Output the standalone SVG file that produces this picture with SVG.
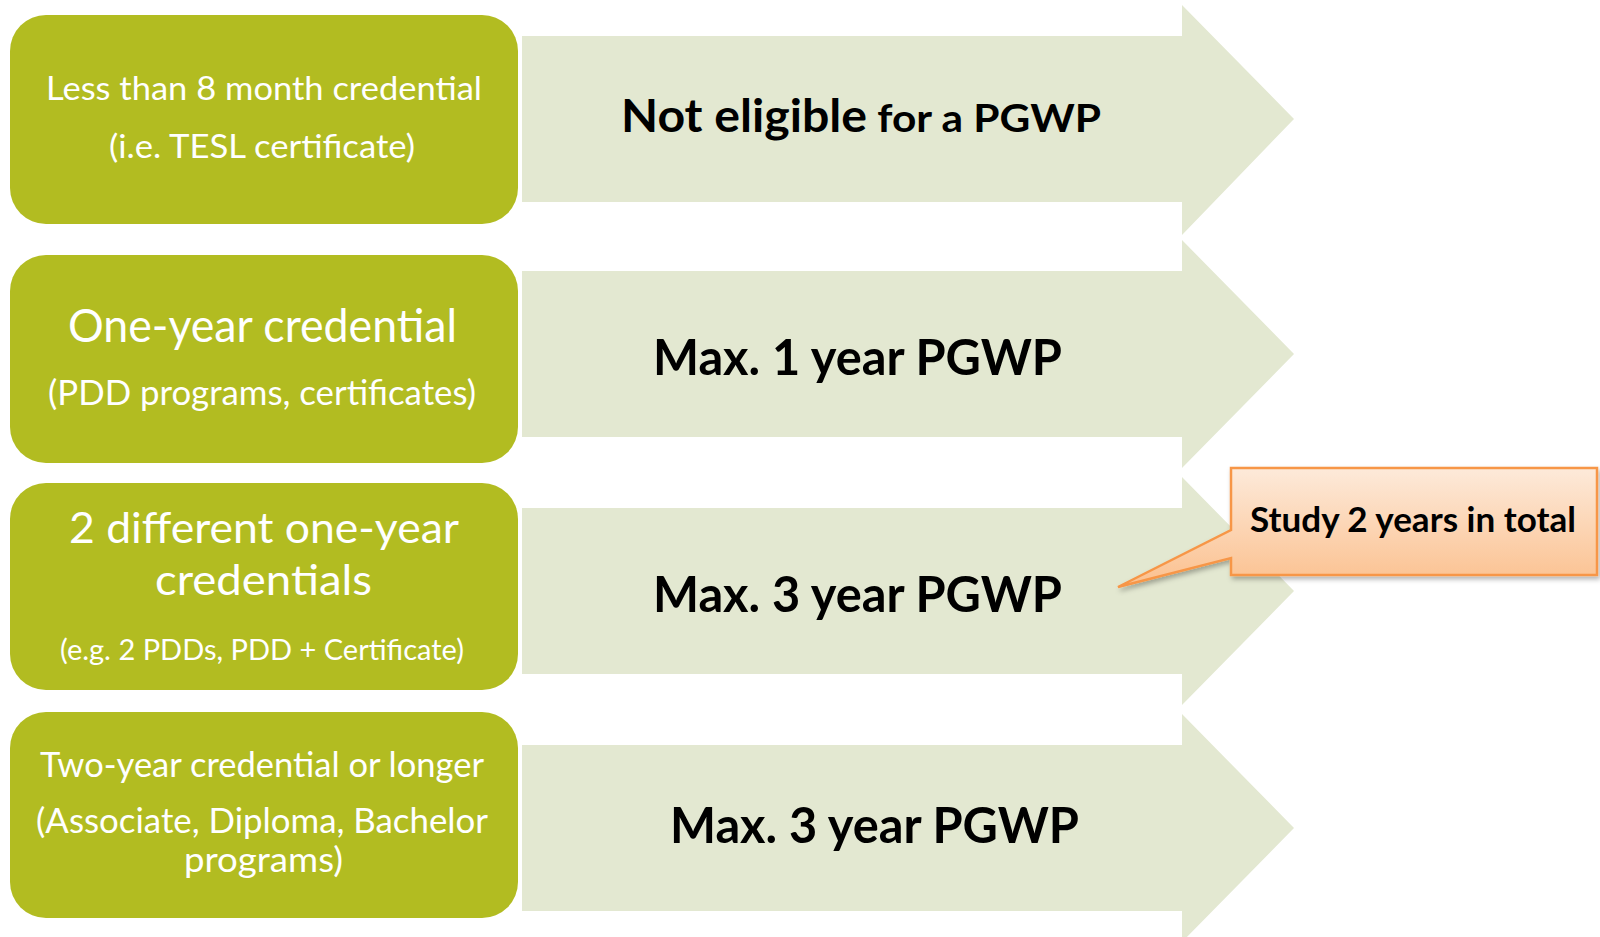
<svg xmlns="http://www.w3.org/2000/svg" width="1600" height="937" viewBox="0 0 1600 937">
  <defs>
    <style>
      .box { fill: #B2BC21; }
      .arrow { fill: #E3E8D1; }
      .wt { fill: #FFFFFF; font-family: Lato, "Open Sans", "Liberation Sans", sans-serif; font-weight: 400; }
      .bt { fill: #000000; font-family: Lato, "Open Sans", "Liberation Sans", sans-serif; font-weight: 700; }
      .call { fill: url(#callGrad); stroke: #F79646; stroke-width: 2.5; stroke-linejoin: miter; }
    </style>
    <linearGradient id="callGrad" x1="0" y1="0" x2="0" y2="1">
      <stop offset="0" stop-color="#FDEADA"/>
      <stop offset="1" stop-color="#FBC08E"/>
    </linearGradient>
    <filter id="shadow" x="-10%" y="-20%" width="120%" height="150%">
      <feDropShadow dx="2" dy="3" stdDeviation="2.5" flood-color="#000000" flood-opacity="0.3"/>
    </filter>
  </defs>
  <rect width="1600" height="937" fill="#FFFFFF"/>

  <g id="connectors">
    <path class="arrow" d="M522,36 H1182 V5 L1294,119 L1182,235 V202 H522 Z"/>
    <path class="arrow" d="M522,271 H1182 V240 L1294,354 L1182,468 V437 H522 Z"/>
    <path class="arrow" d="M522,508 H1182 V477 L1294,591 L1182,705 V674 H522 Z"/>
    <path class="arrow" d="M522,745 H1182 V714 L1294,828 L1182,942 V911 H522 Z"/>
  </g>

  <g id="box1">
    <rect class="box" x="10" y="15" width="508" height="209" rx="36"/>
    <text class="wt" x="46" y="100" font-size="33" textLength="436" lengthAdjust="spacingAndGlyphs">Less than 8 month credential</text>
    <text class="wt" x="109" y="158" font-size="33" textLength="306" lengthAdjust="spacingAndGlyphs">(i.e. TESL certificate)</text>
  </g>
  <g id="box2">
    <rect class="box" x="10" y="255" width="508" height="208" rx="36"/>
    <text class="wt" x="68" y="342" font-size="46" textLength="389" lengthAdjust="spacingAndGlyphs">One-year credential</text>
    <text class="wt" x="48" y="405" font-size="34" textLength="428" lengthAdjust="spacingAndGlyphs">(PDD programs, certificates)</text>
  </g>
  <g id="box3">
    <rect class="box" x="10" y="483" width="508" height="207" rx="36"/>
    <text class="wt" x="69" y="543" font-size="42" textLength="390" lengthAdjust="spacingAndGlyphs">2 different one-year</text>
    <text class="wt" x="155" y="595" font-size="42" textLength="217" lengthAdjust="spacingAndGlyphs">credentials</text>
    <text class="wt" x="60" y="660" font-size="29" textLength="404" lengthAdjust="spacingAndGlyphs">(e.g. 2 PDDs, PDD + Certificate)</text>
  </g>
  <g id="box4">
    <rect class="box" x="10" y="712" width="508" height="206" rx="36"/>
    <text class="wt" x="40" y="777" font-size="34" textLength="444" lengthAdjust="spacingAndGlyphs">Two-year credential or longer</text>
    <text class="wt" x="36" y="833" font-size="34" textLength="452" lengthAdjust="spacingAndGlyphs">(Associate, Diploma, Bachelor</text>
    <text class="wt" x="184" y="872" font-size="34" textLength="159" lengthAdjust="spacingAndGlyphs">programs)</text>
  </g>

  <g id="result1">
    <text class="bt" y="132"><tspan x="621" font-size="45" textLength="246" lengthAdjust="spacingAndGlyphs">Not eligible</tspan><tspan font-size="39" textLength="234" lengthAdjust="spacingAndGlyphs"> for a PGWP</tspan></text>
  </g>
  <g id="result2">
    <text class="bt" x="653" y="375" font-size="49" textLength="409" lengthAdjust="spacingAndGlyphs">Max. 1 year PGWP</text>
  </g>
  <g id="result3">
    <text class="bt" x="653" y="612" font-size="49" textLength="409" lengthAdjust="spacingAndGlyphs">Max. 3 year PGWP</text>
  </g>
  <g id="result4">
    <text class="bt" x="670" y="843" font-size="49" textLength="409" lengthAdjust="spacingAndGlyphs">Max. 3 year PGWP</text>
  </g>

  <g id="callout">
    <path class="call" filter="url(#shadow)" d="M1231,468 H1597 V575 H1231 V558 L1118,587 L1231,530 Z"/>
    <text class="bt" x="1250" y="532" font-size="35" textLength="326" lengthAdjust="spacingAndGlyphs">Study 2 years in total</text>
  </g>
</svg>
